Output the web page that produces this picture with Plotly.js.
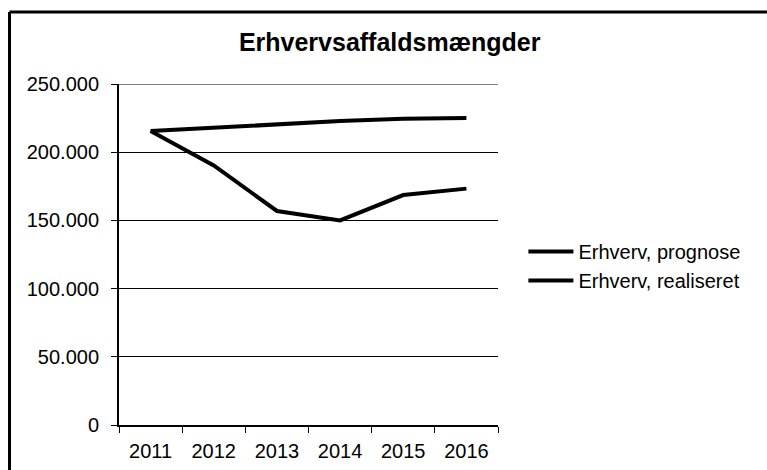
<!DOCTYPE html>
<html>
<head>
<meta charset="utf-8">
<script src="https://cdn.plot.ly/plotly-3.0.1.min.js"></script>
<style>
  html, body { margin: 0; padding: 0; background: #ffffff; }
  #chart { width: 767px; height: 470px; }
</style>
</head>
<body>
<div id="chart"></div>
<script>
const years = ["2011", "2012", "2013", "2014", "2015", "2016"];
const prognose = [215500, 218000, 220300, 222800, 224500, 225000];
const realiseret = [215500, 190300, 156900, 150000, 168600, 173300];
const seriesNames = ["Erhverv, prognose", "Erhverv, realiseret"];
const yTickValues = [0, 50000, 100000, 150000, 200000, 250000];
const chartTitle = "Erhvervsaffaldsmængder";

const font = "Liberation Sans, Arial, sans-serif";
const yMax = Math.max(...yTickValues);

const traces = [
  {
    x: years, y: prognose, name: seriesNames[0],
    type: "scatter", mode: "lines",
    line: { color: "#000000", width: 4 }
  },
  {
    x: years, y: realiseret, name: seriesNames[1],
    type: "scatter", mode: "lines",
    line: { color: "#000000", width: 4 }
  }
];

const layout = {
  width: 767, height: 470,
  margin: { l: 119, r: 269, t: 84, b: 45, pad: 0 },
  paper_bgcolor: "#ffffff",
  plot_bgcolor: "#ffffff",
  separators: ",.",
  font: { family: font, color: "#000000", size: 20 },
  title: {
    text: "<b>" + chartTitle + "</b>",
    font: { family: font, size: 25, color: "#000000" },
    xref: "container", x: 0.508, xanchor: "center",
    yref: "container", y: 0.91, yanchor: "middle"
  },
  xaxis: {
    type: "category",
    categoryorder: "array", categoryarray: years,
    range: [-0.5, 5.5],
    tickson: "boundaries",
    ticks: "outside", ticklen: 6, tickwidth: 1, tickcolor: "#000000",
    showline: true, linecolor: "#000000", linewidth: 2,
    showgrid: false, zeroline: false,
    ticklabelstandoff: 7,
    tickfont: { family: font, size: 20, color: "#000000" },
    fixedrange: true
  },
  yaxis: {
    range: [0, yMax],
    tickvals: yTickValues,
    tickformat: ",d",
    ticks: "outside", ticklen: 6, tickwidth: 1, tickcolor: "#000000",
    showline: true, linecolor: "#000000", linewidth: 2,
    showgrid: true, gridcolor: "#000000", gridwidth: 1,
    zeroline: false,
    ticklabelstandoff: 8,
    tickfont: { family: font, size: 20, color: "#000000" },
    fixedrange: true
  },
  showlegend: true,
  legend: {
    x: 1.067, xanchor: "left",
    y: 0.466, yanchor: "middle",
    bgcolor: "rgba(0,0,0,0)",
    font: { family: font, size: 20, color: "#000000" },
    itemwidth: 45,
    tracegroupgap: 0
  },
  shapes: [
    { type: "line", xref: "paper", yref: "y",
      x0: 0, x1: 1, y0: yMax, y1: yMax,
      line: { color: "#000000", width: 1 } },
    { type: "line", xref: "paper", yref: "paper",
      x0: -0.2889, x1: 1.75, y0: 1.2111, y1: 1.2111,
      line: { color: "#000000", width: 3 } },
    { type: "line", xref: "paper", yref: "paper",
      x0: -0.2889, x1: -0.2889, y0: 1.2111, y1: -0.25,
      line: { color: "#000000", width: 3 } }
  ]
};

Plotly.newPlot("chart", traces, layout, { displayModeBar: false, staticPlot: true });
</script>
</body>
</html>
